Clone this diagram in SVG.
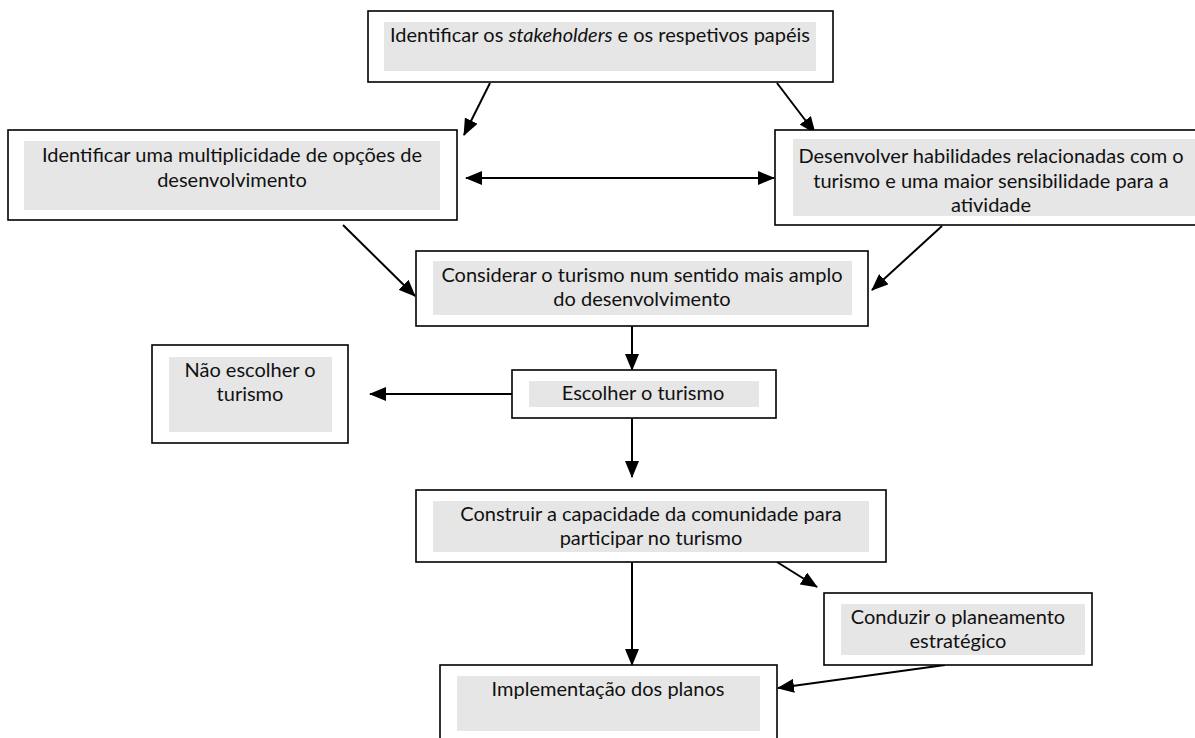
<svg xmlns="http://www.w3.org/2000/svg" width="1195" height="738" viewBox="0 0 1195 738">
  <style>
    .frame { fill: #ffffff; stroke: #000000; stroke-width: 1.6; }
    .band { fill: #e6e6e6; stroke: none; }
    .label { font-family: Lato, "Liberation Sans", sans-serif; font-size: 20px; fill: #111111; text-anchor: middle; }
    .link { fill: none; stroke: #000000; stroke-width: 2; }
    .arrow { marker-end: url(#head); }
  </style>
  <defs>
    <marker id="head" markerUnits="userSpaceOnUse" markerWidth="18" markerHeight="14" refX="16" refY="7" orient="auto-start-reverse" viewBox="0 0 18 14">
      <path d="M0,0 L17,7 L0,14 z" fill="#000000"/>
    </marker>
  </defs>

  <rect width="1195" height="738" fill="#ffffff"/>

  <!-- connectors -->
  <g id="connectors">
    <line class="link arrow" x1="490" y1="83" x2="464" y2="135"/>
    <line class="link arrow" x1="777" y1="83" x2="815" y2="133"/>
    <line class="link arrow" x1="466" y1="178" x2="774" y2="178" marker-start="url(#head)"/>
    <line class="link arrow" x1="343" y1="225" x2="415" y2="296"/>
    <line class="link arrow" x1="942" y1="226" x2="872" y2="290"/>
    <line class="link arrow" x1="632" y1="326" x2="632" y2="370"/>
    <line class="link arrow" x1="512" y1="394" x2="370" y2="394"/>
    <line class="link arrow" x1="632" y1="418" x2="632" y2="477"/>
    <line class="link arrow" x1="632" y1="562" x2="632" y2="665"/>
    <line class="link arrow" x1="777" y1="562" x2="817" y2="587"/>
    <line class="link arrow" x1="945" y1="665" x2="778" y2="688"/>
  </g>

  <!-- stakeholders -->
  <g id="node-stakeholders">
    <rect class="frame" x="368" y="11" width="465" height="71"/>
    <rect class="band" x="384" y="22" width="432" height="49"/>
    <text class="label" x="600" y="42">Identificar os <tspan font-style="italic">stakeholders</tspan> e os respetivos papéis</text>
  </g>

  <g id="node-opcoes">
    <rect class="frame" x="8" y="130" width="449" height="90"/>
    <rect class="band" x="24" y="141" width="416" height="69"/>
    <text class="label" x="232" y="162">Identificar uma multiplicidade de opções de</text>
    <text class="label" x="232" y="187">desenvolvimento</text>
  </g>

  <g id="node-habilidades">
    <rect class="frame" x="775" y="130" width="440" height="95"/>
    <rect class="band" x="793" y="139" width="410" height="77"/>
    <text class="label" x="991" y="163">Desenvolver habilidades relacionadas com o</text>
    <text class="label" x="991" y="188">turismo e uma maior sensibilidade para a</text>
    <text class="label" x="991" y="212">atividade</text>
  </g>

  <g id="node-considerar">
    <rect class="frame" x="416" y="251" width="452" height="75"/>
    <rect class="band" x="433" y="261" width="419" height="54"/>
    <text class="label" x="642" y="282">Considerar o turismo num sentido mais amplo</text>
    <text class="label" x="642" y="306">do desenvolvimento</text>
  </g>

  <g id="node-nao-escolher">
    <rect class="frame" x="152" y="345" width="196" height="98"/>
    <rect class="band" x="169" y="357" width="163" height="75"/>
    <text class="label" x="250" y="377">Não escolher o</text>
    <text class="label" x="250" y="401">turismo</text>
  </g>

  <g id="node-escolher">
    <rect class="frame" x="512" y="370" width="264" height="48"/>
    <rect class="band" x="529" y="381" width="230" height="26"/>
    <text class="label" x="643" y="400">Escolher o turismo</text>
  </g>

  <g id="node-construir">
    <rect class="frame" x="416" y="490" width="470" height="72"/>
    <rect class="band" x="433" y="501" width="436" height="51"/>
    <text class="label" x="651" y="521">Construir a capacidade da comunidade para</text>
    <text class="label" x="651" y="545">participar no turismo</text>
  </g>

  <g id="node-conduzir">
    <rect class="frame" x="824" y="593" width="268" height="72"/>
    <rect class="band" x="841" y="604" width="244" height="51"/>
    <text class="label" x="958" y="624">Conduzir o planeamento</text>
    <text class="label" x="958" y="648">estratégico</text>
  </g>

  <g id="node-implementacao">
    <rect class="frame" x="440" y="665" width="337" height="90"/>
    <rect class="band" x="457" y="676" width="303" height="55"/>
    <text class="label" x="608" y="696">Implementação dos planos</text>
  </g>
</svg>
